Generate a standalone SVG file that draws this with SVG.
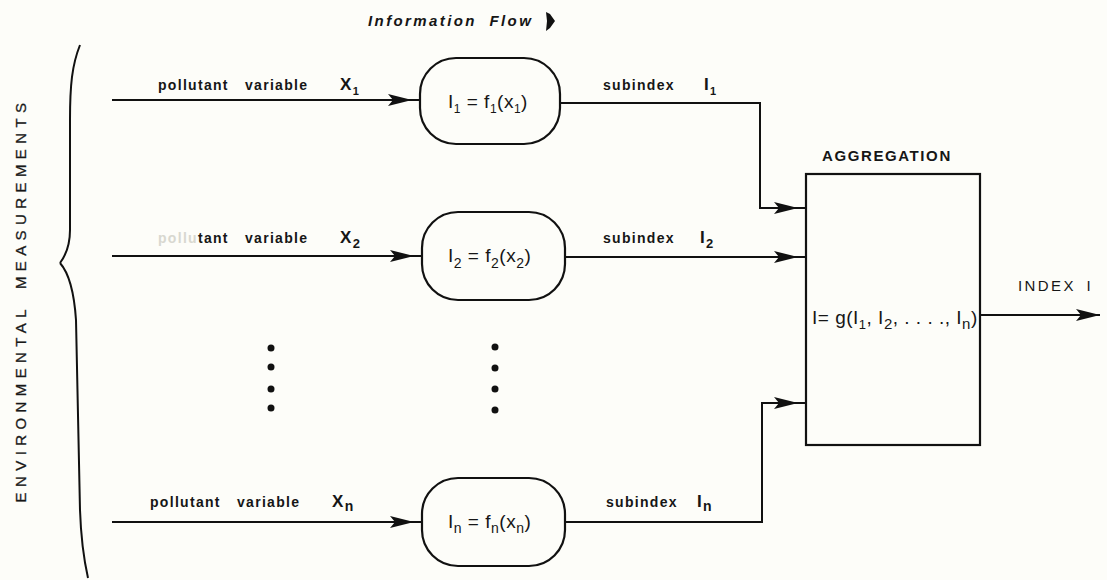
<svg xmlns="http://www.w3.org/2000/svg" width="1107" height="580" viewBox="0 0 1107 580">
  <defs>
    <marker id="arrow" markerUnits="userSpaceOnUse" markerWidth="40" markerHeight="14" refX="32" refY="6" orient="auto">
      <path d="M0,0 L24,6 L0,12 L5,6 z" fill="#111"/>
    </marker>
    <marker id="arrowEnd" markerUnits="userSpaceOnUse" markerWidth="30" markerHeight="14" refX="24" refY="6" orient="auto">
      <path d="M0,0 L24,6 L0,12 L5,6 z" fill="#111"/>
    </marker>
  </defs>
  <style>
    .lbl { font-family: "Liberation Sans", Arial, sans-serif; font-weight: bold; fill: #161616; }
    .small { font-size: 14px; letter-spacing: 1.3px; word-spacing: 11px; }
    .eq { font-size: 19px; font-weight: normal; letter-spacing: 0.5px; }
    .plain { font-weight: normal; }
    .node { fill: none; stroke: #111; stroke-width: 2.2; }
    .wire { fill: none; stroke: #111; stroke-width: 2; }
    .dot { fill: #111; }
  </style>

  <rect width="1107" height="580" fill="#fdfdf9"/>

  <!-- heading -->
  <g id="heading">
    <text class="lbl" x="368" y="26" font-size="15" font-style="italic" letter-spacing="2.4" word-spacing="6">Information Flow</text>
    <path d="M546,12 L550,14 L555,21 L550,28 L546,31 L547,21 z" fill="#111"/>
  </g>

  <!-- left brace and side label -->
  <g id="measurements">
    <path d="M80,45 C72,65 70,85 70,120 L70,170" class="wire" stroke-width="3.2"/>
    <path d="M70,170 L70,230 C70,245 66,255 60,263" class="wire" stroke="#cfcfc8" stroke-width="1.5"/>
    <path d="M60,263 C68,272 74,290 76,320 L80,510 C81,540 84,560 88,578" class="wire" stroke-width="3.2"/>
    <text class="lbl plain" font-size="15" letter-spacing="5.4" word-spacing="6" fill="#222" stroke="#222" stroke-width="0.3" text-anchor="middle" transform="translate(26,300) rotate(-90)">ENVIRONMENTAL MEASUREMENTS</text>
  </g>

  <!-- transformation nodes -->
  <g id="node-f1">
    <rect class="node" x="420" y="58" width="140" height="86" rx="36"/>
    <text class="lbl eq" x="448" y="108">I<tspan font-size="12" dy="5">1</tspan><tspan dy="-5"> = f</tspan><tspan font-size="12" dy="5">1</tspan><tspan dy="-5">(x</tspan><tspan font-size="12" dy="5">1</tspan><tspan dy="-5">)</tspan></text>
  </g>
  <g id="node-f2">
    <rect class="node" x="422" y="212" width="143" height="88" rx="36"/>
    <text class="lbl eq" x="448" y="262">I<tspan font-size="14" dy="6">2</tspan><tspan dy="-6"> = f</tspan><tspan font-size="14" dy="6">2</tspan><tspan dy="-6">(x</tspan><tspan font-size="14" dy="6">2</tspan><tspan dy="-6">)</tspan></text>
  </g>
  <g id="node-fn">
    <rect class="node" x="422" y="478" width="143" height="88" rx="36"/>
    <text class="lbl eq" x="448" y="528">I<tspan font-size="14" dy="5">n</tspan><tspan dy="-5"> = f</tspan><tspan font-size="14" dy="5">n</tspan><tspan dy="-5">(x</tspan><tspan font-size="14" dy="5">n</tspan><tspan dy="-5">)</tspan></text>
  </g>

  <!-- aggregation node -->
  <g id="node-aggregation">
    <text class="lbl" x="822" y="161" font-size="15" letter-spacing="1.6">AGGREGATION</text>
    <rect class="node" x="806" y="174" width="174" height="271"/>
    <text class="lbl eq" x="812" y="324" letter-spacing="0.6">I= g(I<tspan font-size="13" dy="5">1</tspan><tspan dy="-5">, I</tspan><tspan font-size="15" dy="5">2</tspan><tspan dy="-5">, . . . ., I</tspan><tspan font-size="15" dy="5">n</tspan><tspan dy="-5">)</tspan></text>
  </g>

  <!-- elided rows -->
  <g id="ellipsis">
    <circle class="dot" cx="271" cy="348" r="3.5"/>
    <circle class="dot" cx="271" cy="367" r="3.5"/>
    <circle class="dot" cx="271" cy="389" r="3.5"/>
    <circle class="dot" cx="271" cy="408" r="3.5"/>
    <circle class="dot" cx="495" cy="347" r="3.5"/>
    <circle class="dot" cx="495" cy="368" r="3.5"/>
    <circle class="dot" cx="495" cy="389" r="3.5"/>
    <circle class="dot" cx="495" cy="410" r="3.5"/>
  </g>

  <!-- connectors -->
  <g id="connectors">
    <path class="wire" d="M112,100 H420" marker-end="url(#arrow)"/>
    <path class="wire" d="M112,256 H422" marker-end="url(#arrow)"/>
    <path class="wire" d="M112,522 H422" marker-end="url(#arrow)"/>
    <path class="wire" d="M560,103 H760 V208 H806" marker-end="url(#arrow)"/>
    <path class="wire" d="M565,257 H806" marker-end="url(#arrow)"/>
    <path class="wire" d="M565,522 H762 V403 H806" marker-end="url(#arrow)"/>
    <path class="wire" d="M980,315 H1100" marker-end="url(#arrowEnd)"/>
  </g>

  <!-- connector labels -->
  <g id="labels">
    <text class="lbl small" x="158" y="90">pollutant variable<tspan x="340" font-size="17">X</tspan><tspan font-size="11" dy="5">1</tspan></text>
    <text class="lbl small" x="158" y="243"><tspan fill="#d8d8d0">pollu</tspan>tant variable<tspan x="340" font-size="17">X</tspan><tspan font-size="13" dy="5">2</tspan></text>
    <text class="lbl small" x="150" y="507">pollutant variable<tspan x="332" font-size="17">X</tspan><tspan font-size="14" dy="4">n</tspan></text>
    <text class="lbl small" x="603" y="90">subindex<tspan x="704" font-size="17">I</tspan><tspan font-size="11" dy="5">1</tspan></text>
    <text class="lbl small" x="603" y="243">subindex<tspan x="700" font-size="17">I</tspan><tspan font-size="13" dy="5">2</tspan></text>
    <text class="lbl small" x="606" y="507">subindex<tspan x="697" font-size="17">I</tspan><tspan font-size="14" dy="4">n</tspan></text>
    <text class="lbl" x="1018" y="291" font-size="15" letter-spacing="2.4" word-spacing="4" style="font-weight:normal">INDEX I</text>
  </g>
</svg>
